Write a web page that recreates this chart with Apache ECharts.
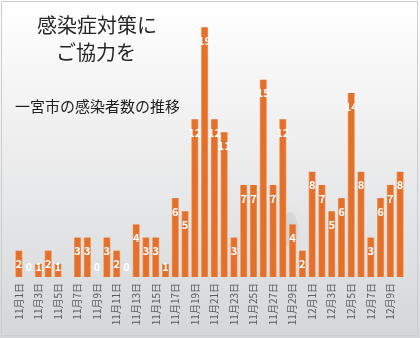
<!DOCTYPE html>
<html>
<head>
<meta charset="utf-8">
<script src="https://cdn.jsdelivr.net/npm/echarts@6/dist/echarts.min.js"></script>
<style>
  html, body { margin: 0; padding: 0; background: #fff; }
  #chart { width: 420px; height: 338px; }
</style>
</head>
<body>
<div id="chart"></div>
<script>
// Daily new cases, 1 Nov – 10 Dec (no report on 11/6)
const days = [
  '11月1日','11月2日','11月3日','11月4日','11月5日','11月6日','11月7日','11月8日','11月9日','11月10日',
  '11月11日','11月12日','11月13日','11月14日','11月15日','11月16日','11月17日','11月18日','11月19日','11月20日',
  '11月21日','11月22日','11月23日','11月24日','11月25日','11月26日','11月27日','11月28日','11月29日','11月30日',
  '12月1日','12月2日','12月3日','12月4日','12月5日','12月6日','12月7日','12月8日','12月9日','12月10日'
];
const cases = [
  2, 0, 1, 2, 1, null, 3, 3, 0, 3,
  2, 0, 4, 3, 3, 1, 6, 5, 12, 19,
  12, 11, 3, 7, 7, 15, 7, 12, 4, 2,
  8, 7, 5, 6, 14, 8, 3, 6, 7, 8
];
const titleLines = ['感染症対策に', 'ご協力を'];
const subtitle = '一宮市の感染者数の推移';

const chart = echarts.init(document.getElementById('chart'), null, { renderer: 'canvas' });

const font = '"Noto Sans CJK JP", "Noto Sans", sans-serif';

// small counts get their label pinned just above the baseline
const barData = cases.map(v => (v !== null && v <= 1)
  ? { value: v, label: { position: 'insideBottom', distance: 5 } }
  : v);

chart.setOption({
  backgroundColor: new echarts.graphic.LinearGradient(0, 0, 0, 1, [
    { offset: 0, color: '#ffffff' },
    { offset: 0.35, color: '#f1f1f1' },
    { offset: 1, color: '#d4d7da' }
  ]),
  animation: false,
  grid: { left: 14, right: 15, top: 14, bottom: 61 },
  xAxis: {
    type: 'category',
    data: days,
    axisLine: { show: false },
    axisTick: { show: false },
    axisLabel: {
      interval: 1,
      rotate: 90,
      margin: 6,
      fontSize: 10,
      color: '#5a5a5a',
      fontFamily: font
    }
  },
  yAxis: {
    type: 'value',
    min: 0,
    max: 20,
    show: false,
    splitLine: { show: false }
  },
  series: [{
    type: 'bar',
    data: barData,
    barWidth: '72%',
    itemStyle: {
      color: new echarts.graphic.LinearGradient(0, 0, 1, 0, [
        { offset: 0, color: '#f2a06a' },
        { offset: 0.18, color: '#e5702a' },
        { offset: 0.82, color: '#e5702a' },
        { offset: 1, color: '#f2a06a' }
      ])
    },
    label: {
      show: true,
      position: 'insideTop',
      distance: 8,
      color: '#ffffff',
      fontSize: 11,
      fontWeight: 'bold',
      fontFamily: font
    },
    z: 3
  }],
  graphic: [
    {
      type: 'ellipse',
      shape: { cx: 290, cy: 230, rx: 8, ry: 18 },
      style: { fill: 'rgba(120,120,120,0.10)', shadowBlur: 14, shadowColor: 'rgba(120,120,120,0.35)' },
      z: 0
    },
    {
      type: 'text',
      style: {
        text: titleLines[0], x: 97, y: 25, align: 'center', verticalAlign: 'middle',
        fill: '#262626', font: '20px ' + font
      },
      z: 5
    },
    {
      type: 'text',
      style: {
        text: titleLines[1], x: 96, y: 52, align: 'center', verticalAlign: 'middle',
        fill: '#262626', font: '20px ' + font
      },
      z: 5
    },
    {
      type: 'text',
      style: {
        text: subtitle, x: 15, y: 106, align: 'left', verticalAlign: 'middle',
        fill: '#1e1e1e', font: '15px ' + font
      },
      z: 5
    },
    {
      type: 'rect',
      shape: { x: 1.5, y: 1.5, width: 416, height: 334 },
      style: { fill: 'none', stroke: '#cdcdcd', lineWidth: 1 },
      z: 6
    }
  ]
});
</script>
</body>
</html>
